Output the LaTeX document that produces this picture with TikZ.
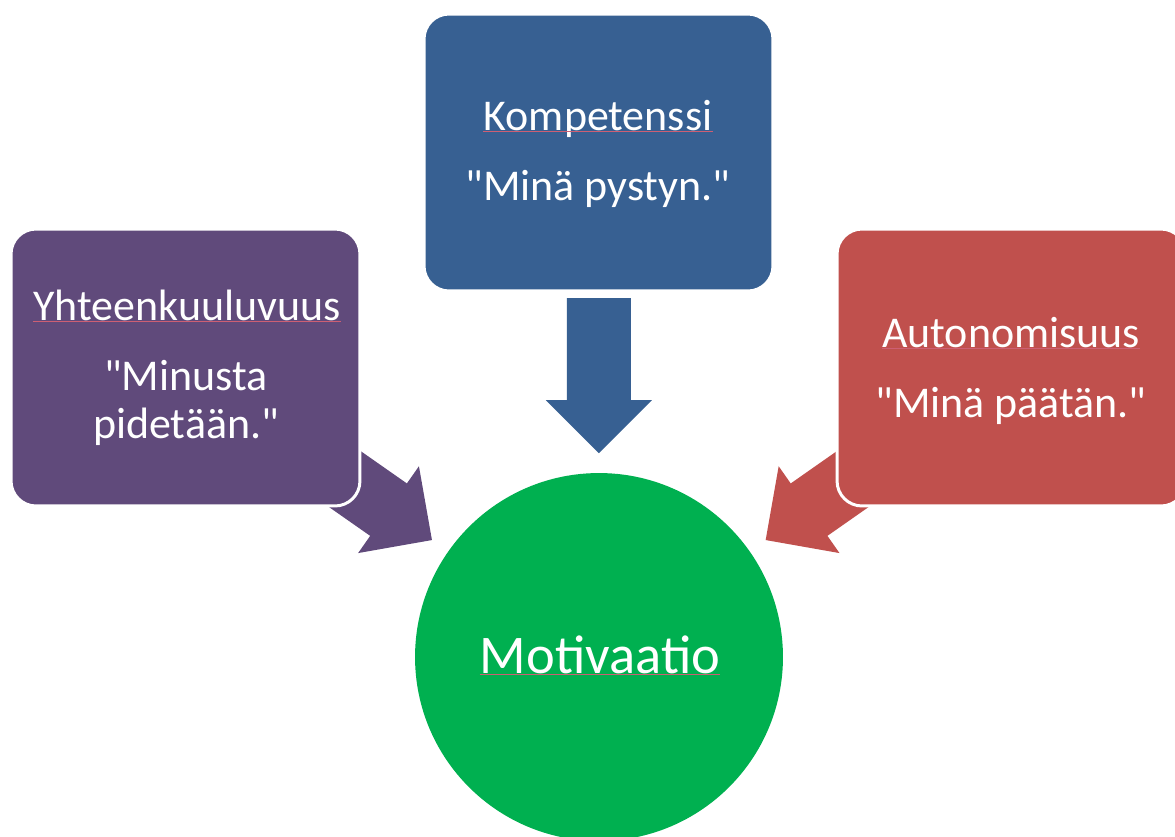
\documentclass[tikz,border=0pt]{standalone}
\usepackage{fontspec}
\setmainfont{Carlito}[Ligatures=TeXOff]
\usetikzlibrary{calc,backgrounds}
\definecolor{kblue}{RGB}{55,96,146}
\definecolor{ypurple}{RGB}{96,74,123}
\definecolor{ared}{RGB}{192,80,77}
\definecolor{mgreen}{RGB}{0,176,80}
\definecolor{squig}{RGB}{205,95,115}
\begin{document}
\begin{tikzpicture}[x=0.02cm,y=-0.02cm,
  box/.style={rectangle, rounded corners=0.5cm, minimum width=6.98cm, minimum height=5.54cm, inner sep=0pt, draw=white, line width=1.7pt},
  lbl/.style={text=white, font=\fontsize{25}{30}\selectfont, anchor=base, inner sep=0pt},
  squigline/.style={draw=squig, line width=0.35pt},
  pics/blockarrow/.style={code={\path[pic actions] (0,0) -- (-53,53) -- (-53,32) -- (-#1,32) -- (-#1,-32) -- (-53,-32) -- (-53,-53) -- cycle;}}]
\clip (0,0) rectangle (1175,836);
\node[box, fill=kblue] (komp) at (598.5,152.5) {};
\node[box, fill=ypurple] (yht) at (185.5,367.5) {};
\node[box, fill=ared] (auto) at (1011.5,367.5) {};
\node[circle, fill=mgreen, minimum size=7.36cm, inner sep=0pt] (mot) at (599,657) {};
\begin{pgfonlayer}{background}
\coordinate (tk) at ($(mot.center)!0.404!(komp.center)$);
\coordinate (ty) at ($(mot.center)!0.404!(yht.center)$);
\coordinate (ta) at ($(mot.center)!0.404!(auto.center)$);
\pic[fill=kblue, rotate=-90] at (tk) {blockarrow=155};
\pic[fill=ypurple, rotate=-35] at (ty) {blockarrow=130};
\pic[fill=ared, rotate=-145] at (ta) {blockarrow=130};
\end{pgfonlayer}
\node[lbl] (k1) at (598,130) {Kompetenssi};
\node[lbl] (k2) at (598,200) {"Minä pystyn."};
\node[lbl] (y1) at (187,320) {Yhteenkuuluvuus};
\node[lbl] (y2) at (186,390) {"Minusta};
\node[lbl] (y3) at (186,438) {pidetään."};
\node[lbl] (a1) at (1011,347) {Autonomisuus};
\node[lbl] (a2) at (1011,417) {"Minä päätän."};
\node[lbl, font=\fontsize{31}{37}\selectfont] (m1) at (600,673) {Motivaatio};
\path[squigline] ([yshift=-1pt]k1.base west) -- ([yshift=-1pt]k1.base east);
\path[squigline] ([yshift=-1pt]y1.base west) -- ([yshift=-1pt]y1.base east);
\path[squigline] ([yshift=-1pt]a1.base west) -- ([yshift=-1pt]a1.base east);
\path[squigline] ([yshift=-1pt]m1.base west) -- ([yshift=-1pt]m1.base east);
\end{tikzpicture}
\end{document}
